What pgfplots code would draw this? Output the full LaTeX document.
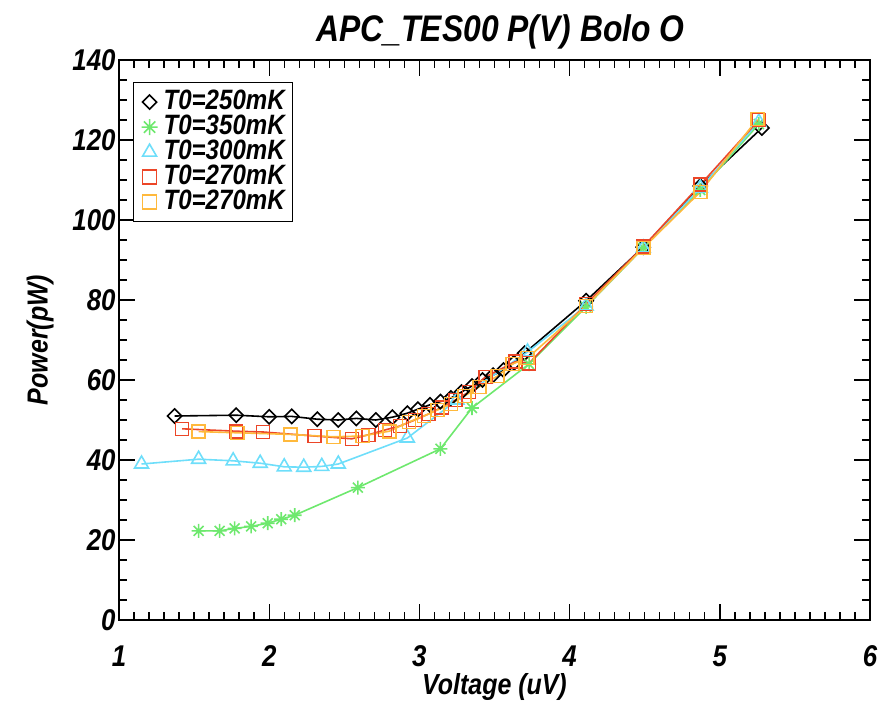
\documentclass[border=0pt]{standalone}
\usepackage{fontspec}
\setmainfont{Liberation Sans}[FakeStretch=0.86]
\usepackage{pgfplots}
\pgfplotsset{compat=1.18}
\newcommand\F[1]{\fontsize{#1}{#1}\selectfont\bfseries\itshape}
\definecolor{cgreen}{RGB}{110,232,110}
\definecolor{ccyan}{RGB}{110,222,250}
\definecolor{cred}{RGB}{236,70,40}
\definecolor{corange}{RGB}{255,185,60}
\pgfdeclareplotmark{ast8}{%
  \pgfpathmoveto{\pgfqpoint{-\pgfplotmarksize}{0pt}}\pgfpathlineto{\pgfqpoint{\pgfplotmarksize}{0pt}}%
  \pgfpathmoveto{\pgfqpoint{0pt}{-\pgfplotmarksize}}\pgfpathlineto{\pgfqpoint{0pt}{\pgfplotmarksize}}%
  \pgfpathmoveto{\pgfqpoint{-0.707\pgfplotmarksize}{-0.707\pgfplotmarksize}}\pgfpathlineto{\pgfqpoint{0.707\pgfplotmarksize}{0.707\pgfplotmarksize}}%
  \pgfpathmoveto{\pgfqpoint{-0.707\pgfplotmarksize}{0.707\pgfplotmarksize}}\pgfpathlineto{\pgfqpoint{0.707\pgfplotmarksize}{-0.707\pgfplotmarksize}}%
  \pgfusepathqstroke}
\begin{document}
\begin{tikzpicture}
\useasboundingbox (0,0) rectangle (888pt,702pt);
\begin{axis}[
  at={(119pt,82pt)}, anchor=south west,
  scale only axis, width=751pt, height=560pt,
  xmin=1, xmax=6, ymin=0, ymax=140,
  xtick={1,2,3,4,5,6}, ytick={0,20,40,60,80,100,120,140},
  minor x tick num=9, minor y tick num=3,
  tick align=inside,
  major tick length=16pt, minor tick length=8pt,
  axis line style={line width=1.6pt},
  every tick/.style={line width=1.4pt, black},
  /pgf/number format/assume math mode=true,
  tick label style={font=\F{30}},
  xticklabel style={yshift=-22pt},
  title={APC\_TES00 P(V) Bolo O},
  title style={font=\F{37}, at={(0.5,1)}, anchor=base, yshift=12pt, xshift=6pt},
  xlabel={Voltage (uV)}, xlabel style={font=\F{29}},
  ylabel={Power(pW)}, ylabel style={font=\F{29}}, ylabel shift=12pt,
  legend style={font=\F{28}, at={(0.0186,0.9607)}, anchor=north west,
    draw=black, line width=1.2pt, row sep=2pt, inner xsep=8pt, inner ysep=8pt,
    nodes={inner sep=0pt, text height=19pt, text depth=4pt},
    /tikz/every odd column/.append style={column sep=6pt}},
  legend cell align=left,
  every axis plot/.append style={line width=1.6pt},
]
\addlegendimage{only marks, black, mark=square, mark size=5pt, mark options={rotate=45}, line width=1.6pt}
\addlegendentry{T0=250mK}
\addlegendimage{only marks, cgreen, mark=ast8, mark size=8pt, line width=1.6pt}
\addlegendentry{T0=350mK}
\addlegendimage{only marks, ccyan, mark=triangle, mark size=8pt, line width=1.6pt}
\addlegendentry{T0=300mK}
\addlegendimage{only marks, cred, mark=square, mark size=7pt, line width=1.6pt}
\addlegendentry{T0=270mK}
\addlegendimage{only marks, corange, mark=square, mark size=7pt, line width=1.6pt}
\addlegendentry{T0=270mK}

\addplot[forget plot, black, mark=square, mark size=5pt, mark options={rotate=45}] coordinates {
(1.37,51.0) (1.78,51.2) (2.00,50.8) (2.15,50.9) (2.32,50.2) (2.46,50.0) (2.58,50.4) (2.71,50.0) (2.82,50.7) (2.92,51.7) (2.99,52.7) (3.07,53.8) (3.14,54.6) (3.21,55.5) (3.28,57.0) (3.35,58.5) (3.42,60.0) (3.49,61.2) (3.56,62.5) (3.63,64.3) (3.70,66.7) (4.11,79.8) (4.49,93.2) (4.87,108.5) (5.28,123.0)};

\addplot[forget plot, cgreen, mark=ast8, mark size=7pt] coordinates {
(1.53,22.3) (1.67,22.3) (1.77,22.9) (1.88,23.4) (1.99,24.2) (2.08,25.2) (2.17,26.2) (2.59,33.1) (3.14,42.8) (3.35,53.0) (3.73,64.0) (4.11,78.3) (4.49,93.0) (4.87,107.5) (5.26,124.0)};

\addplot[forget plot, ccyan, mark=triangle, mark size=8pt] coordinates {
(1.15,39.0) (1.53,40.2) (1.76,39.8) (1.94,39.2) (2.10,38.3) (2.23,38.2) (2.35,38.4) (2.46,39.0) (2.92,45.5) (3.25,55.0) (3.72,67.0) (4.11,78.5) (4.49,93.0) (4.87,108.0) (5.26,124.5)};

\addplot[forget plot, cred, mark=square, mark size=6.5pt] coordinates {
(1.42,47.8) (1.78,47.2) (1.96,47.0) (2.30,46.0) (2.55,45.3) (2.66,46.3) (2.77,47.5) (2.87,48.5) (2.97,50.0) (3.06,51.5) (3.15,53.2) (3.24,55.0) (3.33,57.0) (3.44,60.8) (3.64,64.6) (3.73,64.2) (4.11,79.0) (4.49,93.3) (4.87,108.8) (5.26,125.0)};

\addplot[forget plot, corange, mark=square, mark size=6.5pt] coordinates {
(1.53,47.1) (1.79,46.8) (2.14,46.4) (2.43,45.8) (2.62,46.0) (2.80,47.2) (2.93,49.5) (3.03,51.0) (3.12,52.5) (3.21,54.0) (3.30,56.0) (3.40,58.3) (3.52,61.0) (3.62,64.0) (3.72,65.5) (4.11,78.5) (4.49,93.0) (4.87,107.0) (5.25,125.2)};
\end{axis}
\end{tikzpicture}
\end{document}
